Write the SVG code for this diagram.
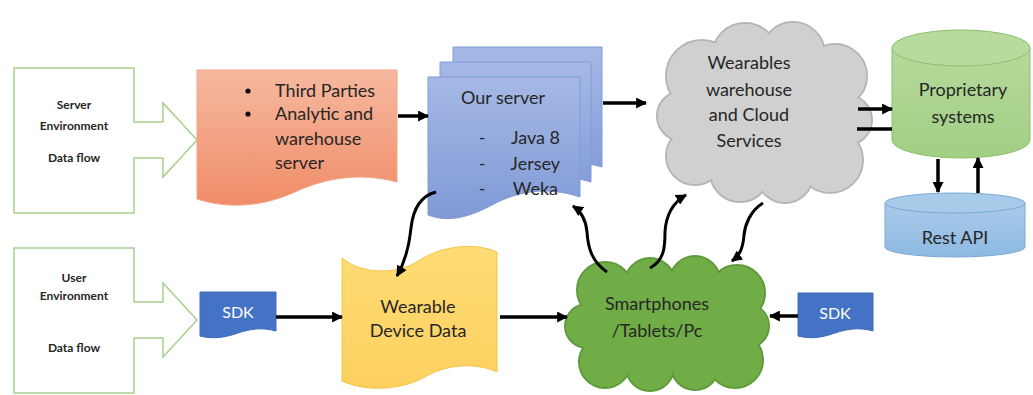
<svg xmlns="http://www.w3.org/2000/svg" width="1033" height="395" viewBox="0 0 1033 395">
  <style>
    .lbl { font-family: Lato, "Open Sans", sans-serif; font-size: 18px; fill: #262626; }
    .env { font-family: Lato, "Open Sans", sans-serif; font-size: 12px; font-weight: bold; fill: #262626; text-anchor: middle; }
    .blk { fill: #ffffff; stroke: #a9d18e; stroke-width: 1.5; }
    .sdk { fill: #4472c4; stroke: #3f6ab8; stroke-width: 1; }
    .sdkt { font-family: Lato, "Open Sans", sans-serif; font-size: 16px; fill: #ffffff; text-anchor: middle; }
    .con { fill: none; stroke: #000000; stroke-width: 3.5; }
    .conc { fill: none; stroke: #000000; stroke-width: 3; }
  </style>
  <defs>
    <marker id="ah" markerUnits="userSpaceOnUse" markerWidth="11" markerHeight="11" viewBox="0 0 10 10" refX="9" refY="5" orient="auto">
      <path d="M0,0 L10,5 L0,10 Z" fill="#000000"/>
    </marker>
    <linearGradient id="gOrange" x1="0" y1="0" x2="0" y2="1">
      <stop offset="0" stop-color="#f6b9a0"/>
      <stop offset="1" stop-color="#f08c68"/>
    </linearGradient>
    <linearGradient id="gBlue" x1="0" y1="0" x2="0" y2="1">
      <stop offset="0" stop-color="#a6b9e6"/>
      <stop offset="1" stop-color="#8099d6"/>
    </linearGradient>
    <linearGradient id="gYellow" x1="0" y1="0" x2="0" y2="1">
      <stop offset="0" stop-color="#ffdc75"/>
      <stop offset="1" stop-color="#fdd060"/>
    </linearGradient>
    <linearGradient id="gGreenCyl" x1="0" y1="0" x2="0" y2="1">
      <stop offset="0" stop-color="#b5d99b"/>
      <stop offset="1" stop-color="#a2cf84"/>
    </linearGradient>
    <linearGradient id="gRest" x1="0" y1="0" x2="0" y2="1">
      <stop offset="0" stop-color="#a9cbea"/>
      <stop offset="1" stop-color="#8fb9e2"/>
    </linearGradient>
  </defs>

  <!-- Server environment block arrow -->
  <g id="server-env">
    <path class="blk" d="M14,68 H134 V122 H163 V103 L197,140 L163,177 V158 H134 V213 H14 Z"/>
    <text class="env" x="74" y="109">Server</text>
    <text class="env" x="74" y="130">Environment</text>
    <text class="env" x="74" y="162">Data flow</text>
  </g>

  <!-- User environment block arrow -->
  <g id="user-env">
    <path class="blk" d="M14,248 H134 V302 H163 V283 L197,320 L163,357 V338 H134 V393 H14 Z"/>
    <text class="env" x="74" y="282">User</text>
    <text class="env" x="74" y="300">Environment</text>
    <text class="env" x="74" y="352">Data flow</text>
  </g>

  <!-- Third parties document -->
  <g id="third-parties">
    <path d="M197,70 H397 V182 C360,172 325,178 295,192 C262,207 228,209 197,199 Z" fill="url(#gOrange)" stroke="#f4a585" stroke-width="1"/>
    <circle cx="248" cy="91" r="2.6" fill="#111"/>
    <circle cx="248" cy="114" r="2.6" fill="#111"/>
    <text class="lbl" x="275" y="97">Third Parties</text>
    <text class="lbl" x="275" y="120">Analytic and</text>
    <text class="lbl" x="275" y="145">warehouse</text>
    <text class="lbl" x="275" y="169">server</text>
  </g>

  <!-- Our server: stacked documents -->
  <g id="our-server">
    <path d="M453,47 H602 V167 C570,158 545,162 520,175 C495,188 475,190 453,184 Z" fill="url(#gBlue)" stroke="#7f9cd9" stroke-width="1"/>
    <path d="M440,62 H591 V182 C558,172 532,177 507,190 C482,203 462,205 440,199 Z" fill="url(#gBlue)" stroke="#7f9cd9" stroke-width="1"/>
    <path d="M428,77 H580 V197 C547,186 518,191 492,205 C466,219 446,222 428,215 Z" fill="url(#gBlue)" stroke="#7f9cd9" stroke-width="1"/>
    <text class="lbl" x="503" y="104" text-anchor="middle">Our server</text>
    <text class="lbl" x="482" y="144" text-anchor="middle">-</text>
    <text class="lbl" x="560" y="144" text-anchor="end">Java 8</text>
    <text class="lbl" x="482" y="170" text-anchor="middle">-</text>
    <text class="lbl" x="560" y="170" text-anchor="end">Jersey</text>
    <text class="lbl" x="482" y="195" text-anchor="middle">-</text>
    <text class="lbl" x="558" y="195" text-anchor="end">Weka</text>
  </g>

  <!-- Wearables warehouse cloud: outlined bumps, then the same bumps filled on top -->
  <g id="cloud-services">
    <g fill="#d0d0d0" stroke="#b5b5b5" stroke-width="2">
      <circle cx="702" cy="76" r="36"/>
      <circle cx="745" cy="56" r="33"/>
      <circle cx="793" cy="54" r="32"/>
      <circle cx="835" cy="76" r="32"/>
      <circle cx="847" cy="120" r="25"/>
      <circle cx="830" cy="160" r="33"/>
      <circle cx="785" cy="175" r="28"/>
      <circle cx="740" cy="172" r="30"/>
      <circle cx="695" cy="156" r="29"/>
      <circle cx="682" cy="116" r="25"/>
    </g>
    <g fill="#d0d0d0">
      <circle cx="702" cy="76" r="35"/>
      <circle cx="745" cy="56" r="32"/>
      <circle cx="793" cy="54" r="31"/>
      <circle cx="835" cy="76" r="31"/>
      <circle cx="847" cy="120" r="24"/>
      <circle cx="830" cy="160" r="32"/>
      <circle cx="785" cy="175" r="27"/>
      <circle cx="740" cy="172" r="29"/>
      <circle cx="695" cy="156" r="28"/>
      <circle cx="682" cy="116" r="24"/>
      <ellipse cx="763" cy="115" rx="76" ry="66"/>
    </g>
    <text class="lbl" x="749" y="69" text-anchor="middle" fill="#333">Wearables</text>
    <text class="lbl" x="749" y="96" text-anchor="middle" fill="#333">warehouse</text>
    <text class="lbl" x="749" y="121" text-anchor="middle" fill="#333">and Cloud</text>
    <text class="lbl" x="749" y="147" text-anchor="middle" fill="#333">Services</text>
  </g>

  <!-- Proprietary systems cylinder -->
  <g id="proprietary">
    <path d="M892,48 V140 A69,18 0 0 0 1030,140 V48 Z" fill="url(#gGreenCyl)" stroke="#8cc06c" stroke-width="1"/>
    <ellipse cx="961" cy="48" rx="69" ry="18" fill="#b7da9e" stroke="#8cc06c" stroke-width="1"/>
    <text class="lbl" x="963" y="96" text-anchor="middle">Proprietary</text>
    <text class="lbl" x="963" y="123" text-anchor="middle">systems</text>
  </g>

  <!-- Rest API cylinder -->
  <g id="rest-api">
    <path d="M885,203 V247 A70,10 0 0 0 1025,247 V203 Z" fill="url(#gRest)" stroke="#7aa9d6" stroke-width="1"/>
    <ellipse cx="955" cy="203" rx="70" ry="10" fill="#a9cbea" stroke="#7aa9d6" stroke-width="1"/>
    <text class="lbl" x="955" y="244" text-anchor="middle">Rest API</text>
  </g>

  <!-- SDK (user side) -->
  <g id="sdk-left">
    <path class="sdk" d="M200,292 H276 V331 C262,327 250,329 238,333 C224,338 212,339 200,336 Z"/>
    <text class="sdkt" x="238" y="318">SDK</text>
  </g>

  <!-- Wearable device data (punched tape) -->
  <g id="device-data">
    <path d="M342,258 C362,275 398,275 420,260 C442,246 474,242 497,252 V372 C475,362 446,364 423,378 C400,390 366,392 342,381 Z" fill="url(#gYellow)" stroke="#f4c445" stroke-width="1"/>
    <text class="lbl" x="418" y="313" text-anchor="middle">Wearable</text>
    <text class="lbl" x="418" y="337" text-anchor="middle">Device Data</text>
  </g>

  <!-- Smartphones cloud -->
  <g id="smartphones">
    <g fill="#70ad47" stroke="#5f9a3a" stroke-width="2">
      <circle cx="605" cy="290" r="28"/>
      <circle cx="650" cy="283" r="25"/>
      <circle cx="695" cy="281" r="25"/>
      <circle cx="737" cy="293" r="28"/>
      <circle cx="747" cy="326" r="22"/>
      <circle cx="735" cy="360" r="28"/>
      <circle cx="695" cy="366" r="24"/>
      <circle cx="650" cy="367" r="24"/>
      <circle cx="605" cy="362" r="26"/>
      <circle cx="587" cy="326" r="22"/>
    </g>
    <g fill="#70ad47">
      <circle cx="605" cy="290" r="27"/>
      <circle cx="650" cy="283" r="24"/>
      <circle cx="695" cy="281" r="24"/>
      <circle cx="737" cy="293" r="27"/>
      <circle cx="747" cy="326" r="21"/>
      <circle cx="735" cy="360" r="27"/>
      <circle cx="695" cy="366" r="23"/>
      <circle cx="650" cy="367" r="23"/>
      <circle cx="605" cy="362" r="25"/>
      <circle cx="587" cy="326" r="21"/>
      <ellipse cx="666" cy="324" rx="85" ry="45"/>
    </g>
    <text class="lbl" x="657" y="310" text-anchor="middle" fill="#e6f2dc">Smartphones</text>
    <text class="lbl" x="657" y="337" text-anchor="middle" fill="#e6f2dc">/Tablets/Pc</text>
  </g>

  <!-- SDK (device side) -->
  <g id="sdk-right">
    <path class="sdk" d="M798,293 H873 V331 C859,327 847,329 835,333 C821,338 810,339 798,336 Z"/>
    <text class="sdkt" x="835" y="319">SDK</text>
  </g>

  <!-- Connectors -->
  <g id="connectors">
    <path class="con" d="M398,116 H428" marker-end="url(#ah)"/>
    <path class="con" d="M603,103 H646" marker-end="url(#ah)"/>
    <path class="con" d="M858,109 H892" marker-end="url(#ah)"/>
    <path class="con" d="M892,129 H857"/>
    <path class="con" d="M938,159 V192" marker-end="url(#ah)"/>
    <path class="con" d="M978,193 V158" marker-end="url(#ah)"/>
    <path class="con" d="M276,317 H342" marker-end="url(#ah)"/>
    <path class="con" d="M500,317 H567" marker-end="url(#ah)"/>
    <path class="con" d="M798,316 H770" marker-end="url(#ah)"/>
    <path class="conc" d="M436,192 C420,196 413,210 411,228 C409,248 405,262 397,276" marker-end="url(#ah)"/>
    <path class="conc" d="M607,272 C592,262 588,248 587,232 C586,220 582,212 573,206" marker-end="url(#ah)"/>
    <path class="conc" d="M650,268 C665,260 665,245 665,232 C666,215 672,203 686,195" marker-end="url(#ah)"/>
    <path class="conc" d="M763,203 C750,211 745,225 744,235 C743,248 740,255 732,261" marker-end="url(#ah)"/>
  </g>
</svg>
